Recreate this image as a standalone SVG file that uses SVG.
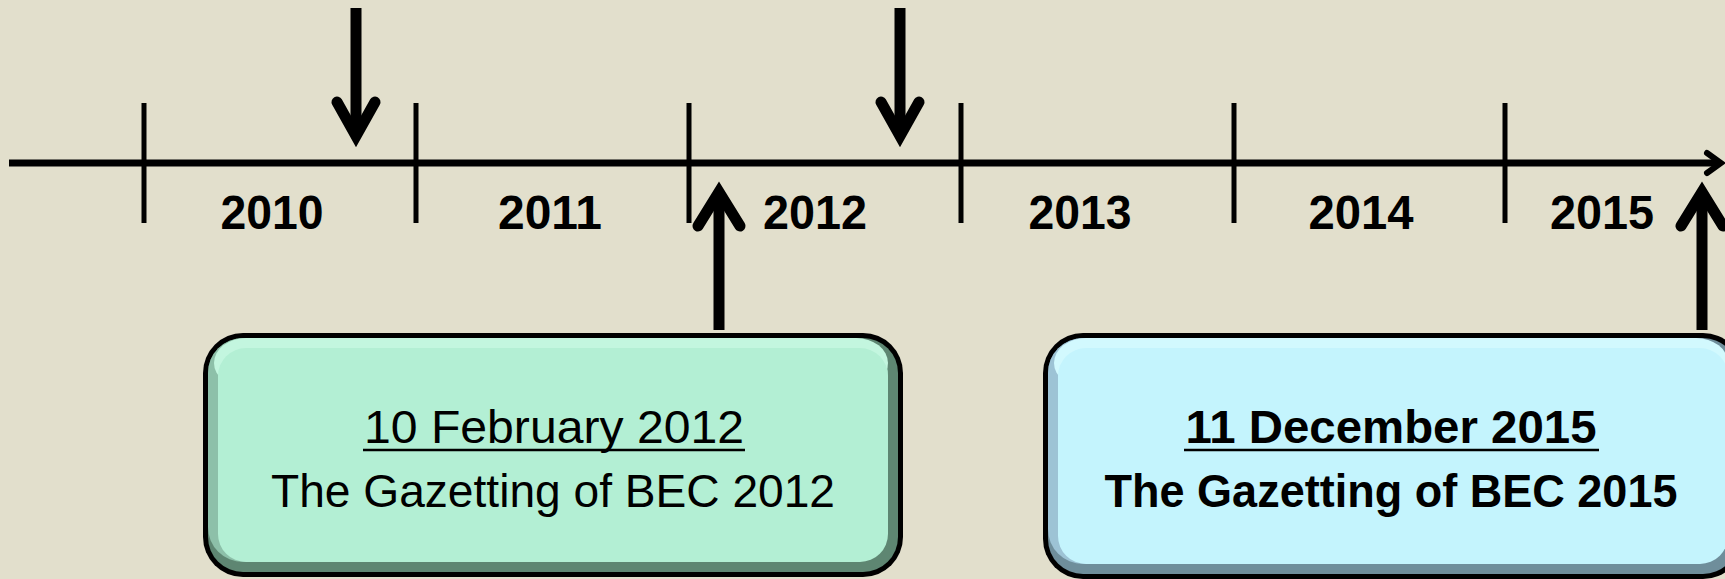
<svg xmlns="http://www.w3.org/2000/svg" width="1725" height="579" viewBox="0 0 1725 579">
<style>
.yr{font-family:"Liberation Sans",Arial,sans-serif;font-weight:bold;font-size:48px;fill:#000;text-anchor:middle}
.t{font-family:"Liberation Sans",Arial,sans-serif;font-size:46px;fill:#000;text-anchor:middle}
.tb{font-family:"Liberation Sans",Arial,sans-serif;font-weight:bold;font-size:46px;fill:#000;text-anchor:middle}
.tick{stroke:#000;stroke-width:5}
.arr{fill:none;stroke:#000;stroke-width:11;stroke-linecap:round;stroke-linejoin:miter;stroke-miterlimit:10}
.shaft{stroke:#000;stroke-width:11}
</style>
<rect x="0" y="0" width="1725" height="579" fill="#e2dfcc"/>
<g id="timeline">
  <line x1="9" y1="163" x2="1720" y2="163" stroke="#000" stroke-width="7"/>
  <polyline points="1707,153 1721,163 1707,173" fill="none" stroke="#000" stroke-width="6" stroke-linecap="round"/>
  <line class="tick" x1="144" y1="103" x2="144" y2="223"/>
  <line class="tick" x1="416" y1="103" x2="416" y2="223"/>
  <line class="tick" x1="689" y1="103" x2="689" y2="223"/>
  <line class="tick" x1="961" y1="103" x2="961" y2="223"/>
  <line class="tick" x1="1234" y1="103" x2="1234" y2="223"/>
  <line class="tick" x1="1505" y1="103" x2="1505" y2="223"/>
  <text class="yr" x="272" y="229" textLength="103" lengthAdjust="spacingAndGlyphs">2010</text>
  <text class="yr" x="550" y="229" textLength="104" lengthAdjust="spacingAndGlyphs">2011</text>
  <text class="yr" x="815" y="229" textLength="104" lengthAdjust="spacingAndGlyphs">2012</text>
  <text class="yr" x="1080" y="229" textLength="103" lengthAdjust="spacingAndGlyphs">2013</text>
  <text class="yr" x="1361" y="229" textLength="105" lengthAdjust="spacingAndGlyphs">2014</text>
  <text class="yr" x="1602" y="229" textLength="104" lengthAdjust="spacingAndGlyphs">2015</text>
</g>
<g id="connectors">
  <line class="shaft" x1="356" y1="8" x2="356" y2="130"/>
  <polyline class="arr" points="337,102 356,136 375,102"/>
  <line class="shaft" x1="900" y1="8" x2="900" y2="130"/>
  <polyline class="arr" points="881,102 900,136 919,102"/>
  <line class="shaft" x1="719" y1="330" x2="719" y2="200"/>
  <polyline class="arr" points="698,226 719,192 740,226"/>
  <line class="shaft" x1="1702" y1="330" x2="1702" y2="200"/>
  <polyline class="arr" points="1681,226 1702,192 1723,226"/>
</g>
<g id="box2012">
  <rect x="203" y="333" width="700" height="244" rx="40" fill="#000"/>
  <rect x="208" y="338" width="690" height="234" rx="35" fill="#5e8672"/>
  <rect x="208" y="338" width="680" height="224" rx="35" fill="#8dc0a9"/>
  <rect x="214" y="338" width="674" height="50" rx="32" fill="#c3f6df"/>
  <rect x="218" y="348" width="670" height="214" rx="28" fill="#b3efd4"/>
  <text class="t" x="554" y="443" textLength="380" lengthAdjust="spacingAndGlyphs">10 February 2012</text>
  <line x1="363" y1="450" x2="745" y2="450" stroke="#000" stroke-width="2.5"/>
  <text class="t" x="553" y="507" textLength="564" lengthAdjust="spacingAndGlyphs">The Gazetting of BEC 2012</text>
</g>
<g id="box2015">
  <rect x="1043" y="333" width="700" height="246" rx="40" fill="#000"/>
  <rect x="1048" y="338" width="690" height="236" rx="35" fill="#6f8e9b"/>
  <rect x="1048" y="338" width="680" height="226" rx="35" fill="#9dc3d5"/>
  <rect x="1054" y="338" width="674" height="50" rx="32" fill="#d2f9fe"/>
  <rect x="1058" y="348" width="670" height="216" rx="28" fill="#c4f4fd"/>
  <text class="tb" x="1391" y="443" textLength="411" lengthAdjust="spacingAndGlyphs">11 December 2015</text>
  <line x1="1184" y1="450" x2="1599" y2="450" stroke="#000" stroke-width="2.5"/>
  <text class="tb" x="1391" y="507" textLength="573" lengthAdjust="spacingAndGlyphs">The Gazetting of BEC 2015</text>
</g>
</svg>
